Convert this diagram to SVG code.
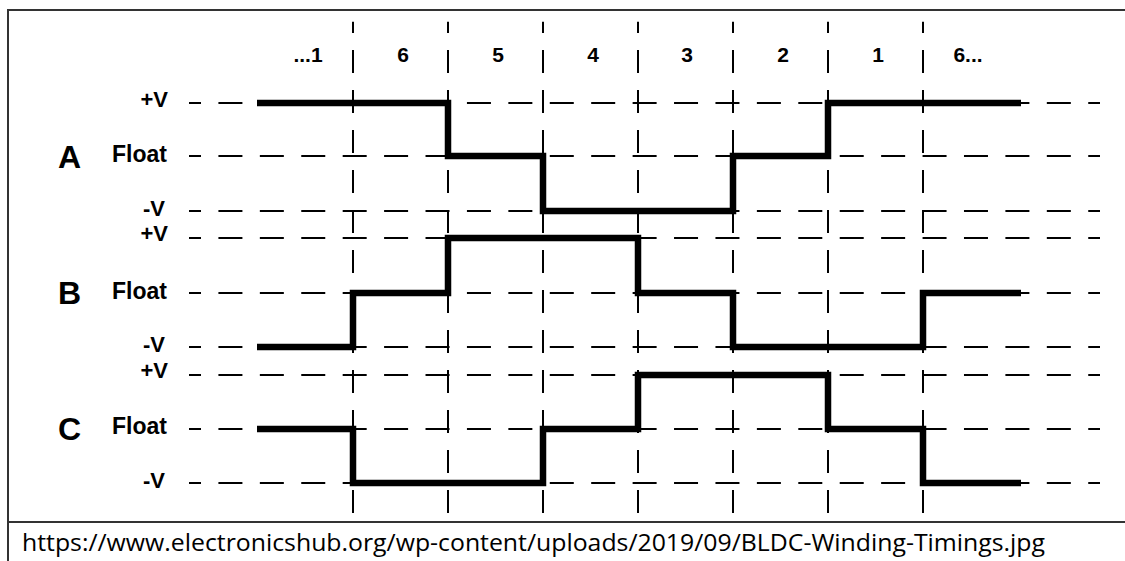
<svg xmlns="http://www.w3.org/2000/svg" width="1125" height="561" viewBox="0 0 1125 561">
<style>
.hd{stroke:#000;stroke-width:2;stroke-dasharray:24 17.42;stroke-dashoffset:12;fill:none}
.vd{stroke:#000;stroke-width:2;stroke-dasharray:23 17;stroke-dashoffset:11.7;fill:none}
.sig{stroke:#000;stroke-width:6.5;fill:none;stroke-linejoin:miter;stroke-linecap:butt}
.lbl{font-family:"Liberation Sans",Arial,sans-serif;font-weight:bold;fill:#000}
.lv{font-size:22px;text-anchor:end}
.lf{font-size:23px;text-anchor:end}
.ph{font-size:32px}
.col{font-size:21px;text-anchor:middle}
.frame{stroke:#333;stroke-width:2;fill:none}
</style>
<rect width="1125" height="561" fill="#fff"/>
<g id="frame">
<line class="frame" x1="8" y1="10" x2="1125" y2="10"/>
<line class="frame" x1="8" y1="9" x2="8" y2="561"/>
<line class="frame" x1="8" y1="522" x2="1125" y2="522"/>
</g>
<g id="grid">
<line class="hd" x1="189" y1="103" x2="1100" y2="103"/>
<line class="hd" x1="189" y1="156" x2="1100" y2="156"/>
<line class="hd" x1="189" y1="211" x2="1100" y2="211"/>
<line class="hd" x1="189" y1="238" x2="1100" y2="238"/>
<line class="hd" x1="189" y1="293" x2="1100" y2="293"/>
<line class="hd" x1="189" y1="347" x2="1100" y2="347"/>
<line class="hd" x1="189" y1="375" x2="1100" y2="375"/>
<line class="hd" x1="189" y1="429" x2="1100" y2="429"/>
<line class="hd" x1="189" y1="483" x2="1100" y2="483"/>
<line class="vd" x1="353" y1="21.7" x2="353" y2="513"/>
<line class="vd" x1="448" y1="21.7" x2="448" y2="513"/>
<line class="vd" x1="543" y1="21.7" x2="543" y2="513"/>
<line class="vd" x1="638" y1="21.7" x2="638" y2="513"/>
<line class="vd" x1="733" y1="21.7" x2="733" y2="513"/>
<line class="vd" x1="828" y1="21.7" x2="828" y2="513"/>
<line class="vd" x1="923" y1="21.7" x2="923" y2="513"/>
</g>
<g id="columns" class="lbl col">
<text x="308" y="62">...1</text>
<text x="403" y="62">6</text>
<text x="498" y="62">5</text>
<text x="593" y="62">4</text>
<text x="687" y="62">3</text>
<text x="783" y="62">2</text>
<text x="878" y="62">1</text>
<text x="968" y="62">6...</text>
</g>
<g id="phaseA">
<text class="lbl ph" x="58" y="168">A</text>
<text class="lbl lv" x="168" y="107">+V</text>
<text class="lbl lf" x="167" y="162">Float</text>
<text class="lbl lv" x="165" y="216">-V</text>
<polyline class="sig" points="257,103 448,103 448,156 543,156 543,211 733,211 733,156 828,156 828,103 1021,103"/>
</g>
<g id="phaseB">
<text class="lbl ph" x="58" y="304">B</text>
<text class="lbl lv" x="168" y="241">+V</text>
<text class="lbl lf" x="167" y="299">Float</text>
<text class="lbl lv" x="165" y="352">-V</text>
<polyline class="sig" points="257,347 353,347 353,293 448,293 448,238 638,238 638,293 733,293 733,347 923,347 923,293 1021,293"/>
</g>
<g id="phaseC">
<text class="lbl ph" x="58" y="440">C</text>
<text class="lbl lv" x="168" y="378">+V</text>
<text class="lbl lf" x="167" y="434">Float</text>
<text class="lbl lv" x="165" y="488">-V</text>
<polyline class="sig" points="257,429 353,429 353,483 543,483 543,429 638,429 638,375 828,375 828,429 923,429 923,483 1021,483"/>
</g>
<g id="source">
<text x="22" y="551" font-family="'Open Sans','Liberation Sans',sans-serif" font-size="24" fill="#000" textLength="1023" lengthAdjust="spacingAndGlyphs">https://www.electronicshub.org/wp-content/uploads/2019/09/BLDC-Winding-Timings.jpg</text>
</g>
</svg>
